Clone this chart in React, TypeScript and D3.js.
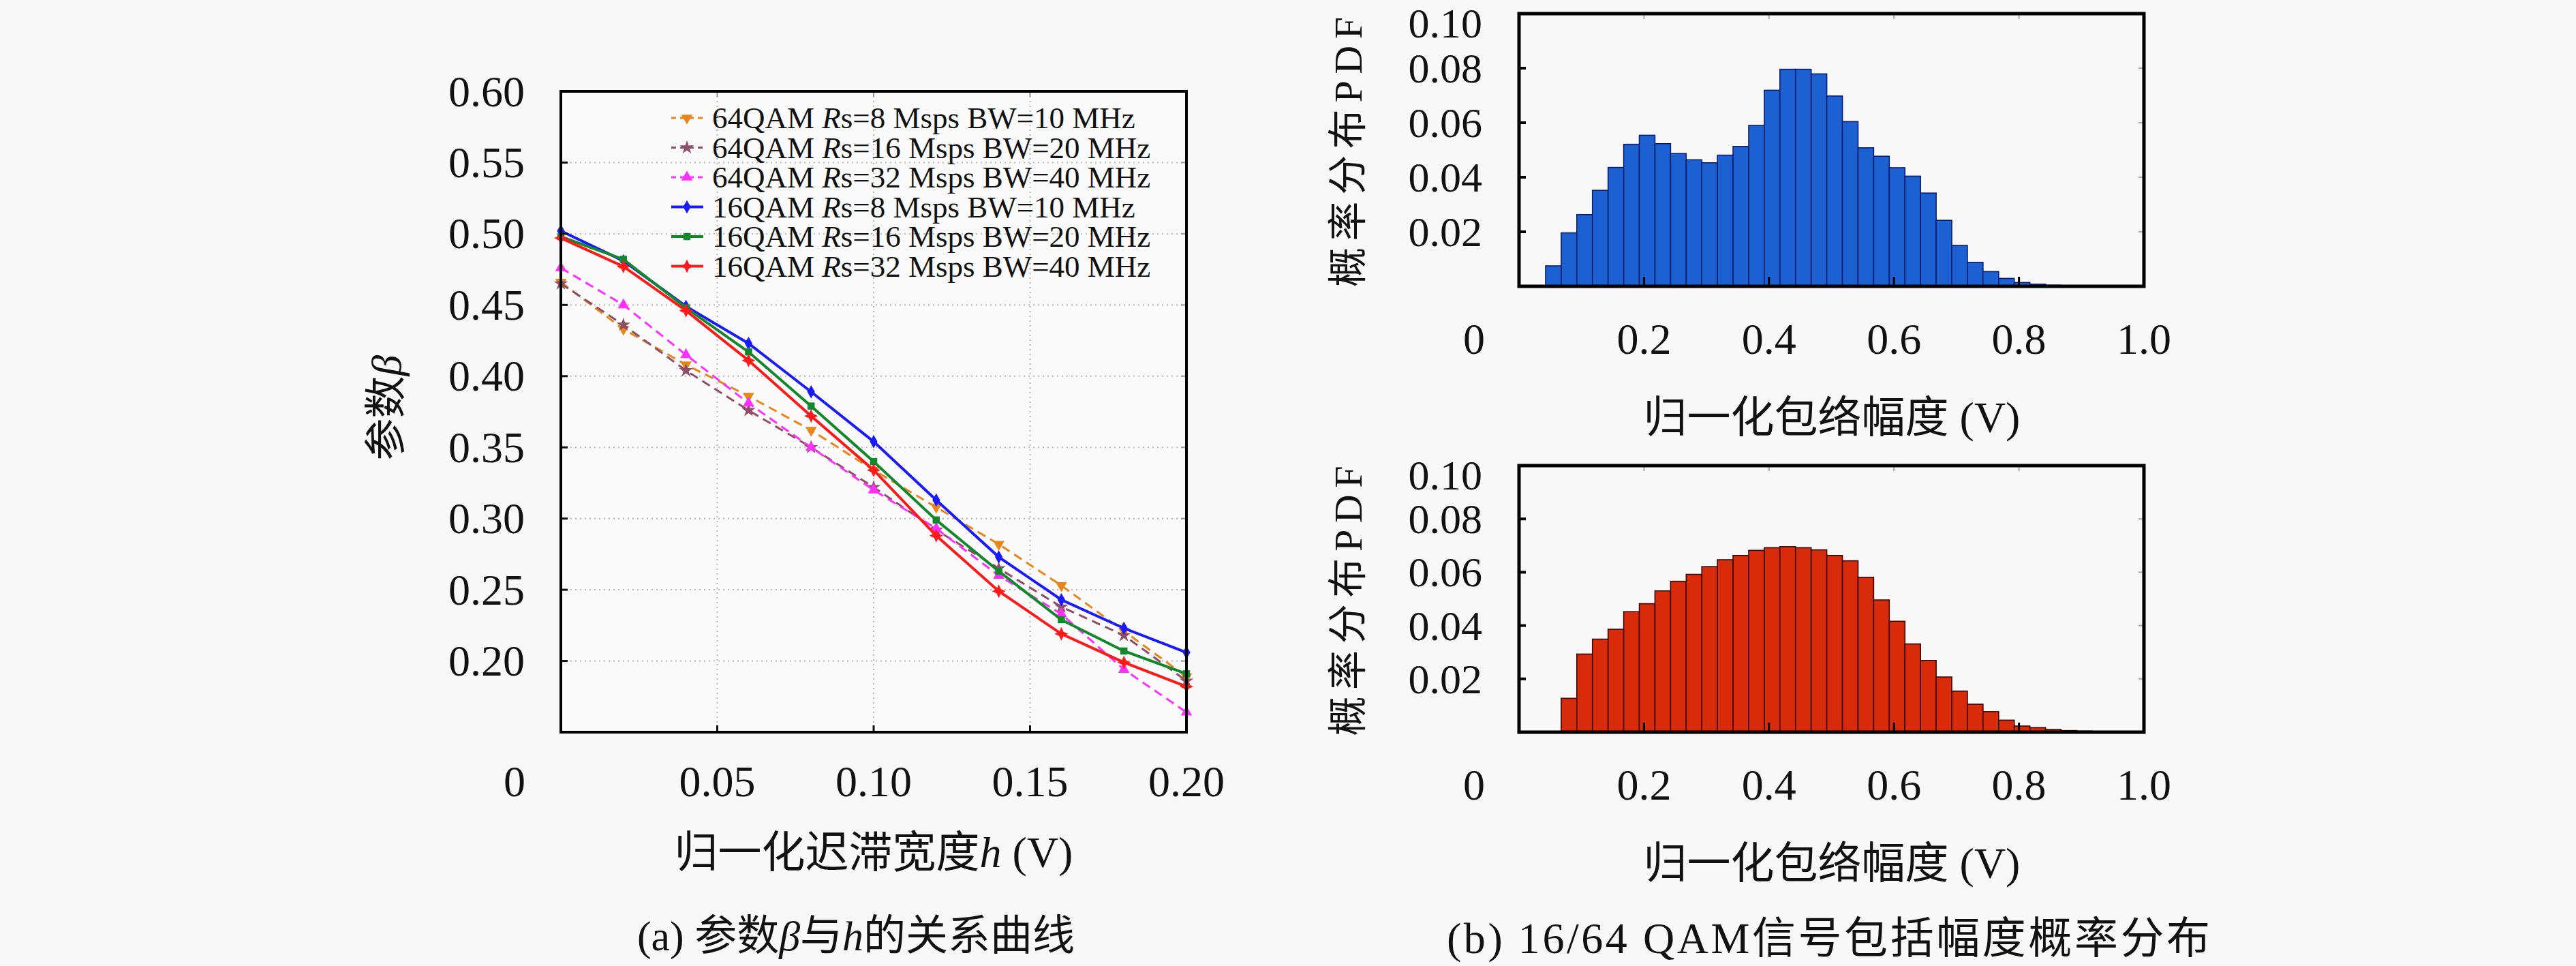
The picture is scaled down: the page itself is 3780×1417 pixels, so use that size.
import React from 'react';
import * as d3 from 'd3';

// ---- (a) beta vs h ----
const hValues = [0, 0.02, 0.04, 0.06, 0.08, 0.1, 0.12, 0.14, 0.16, 0.18, 0.2];
const qam64Rs8 = [0.466, 0.433, 0.408, 0.386, 0.362, 0.334, 0.308, 0.282, 0.253, 0.221, 0.189];
const qam64Rs16 = [0.465, 0.436, 0.404, 0.376, 0.35, 0.322, 0.292, 0.265, 0.238, 0.218, 0.186];
const qam64Rs32 = [0.476, 0.45, 0.415, 0.381, 0.35, 0.32, 0.293, 0.26, 0.233, 0.194, 0.164];
const qam16Rs8 = [0.502, 0.481, 0.449, 0.423, 0.389, 0.354, 0.313, 0.273, 0.243, 0.223, 0.206];
const qam16Rs16 = [0.498, 0.482, 0.448, 0.417, 0.379, 0.34, 0.299, 0.263, 0.229, 0.207, 0.191];
const qam16Rs32 = [0.497, 0.477, 0.446, 0.411, 0.372, 0.334, 0.288, 0.249, 0.219, 0.199, 0.182];

const betaTicks = [0.2, 0.25, 0.3, 0.35, 0.4, 0.45, 0.5, 0.55, 0.6];
const hTicks = [0.05, 0.1, 0.15, 0.2];

// ---- (b) envelope PDF histograms ----
const binWidth = 0.025;
const pdf64Start = 0.0425;
const pdf64 = [0.0075, 0.0196, 0.0263, 0.0352, 0.0436, 0.0521, 0.0554, 0.0523, 0.0487, 0.0464, 0.0453, 0.0481,
  0.0513, 0.059, 0.0719, 0.0796, 0.0796, 0.0779, 0.0698, 0.0604, 0.0508, 0.0477, 0.0435, 0.0404, 0.0342,
  0.0242, 0.015, 0.0088, 0.0054, 0.0029, 0.0014, 0.0008, 0.0004, 0.0002, 0.0001];
const pdf16Start = 0.0675;
const pdf16 = [0.0127, 0.0293, 0.0349, 0.0386, 0.0452, 0.0482, 0.053, 0.0566, 0.0592, 0.0621, 0.0647, 0.0663,
  0.0682, 0.0692, 0.0696, 0.0692, 0.0684, 0.0663, 0.0643, 0.0581, 0.0496, 0.0416, 0.0331, 0.0269, 0.0207,
  0.0154, 0.0105, 0.0077, 0.0045, 0.0023, 0.0017, 0.001, 0.0006, 0.0004, 0.0003, 0.0002, 0.0001];
const pdfTicks = [0.02, 0.04, 0.06, 0.08, 0.1];
const ampTicks = [0.2, 0.4, 0.6, 0.8, 1.0];

const SERIF = "'Liberation Serif', 'Noto Sans CJK SC', serif";

const star4 = (r: number) =>
  `M0,${-r}L${r * 0.32},${-r * 0.32}L${r},0L${r * 0.32},${r * 0.32}L0,${r}L${-r * 0.32},${r * 0.32}L${-r},0L${-r * 0.32},${-r * 0.32}Z`;

const series = [
  { label: '64QAM', rs: '8', bw: '10', values: qam64Rs8, color: '#e8861a', dash: '13,8', marker: d3.symbol(d3.symbolTriangle, 120)(), flip: true },
  { label: '64QAM', rs: '16', bw: '20', values: qam64Rs16, color: '#8e4f66', dash: '13,8', marker: d3.symbol(d3.symbolStar, 130)(), flip: false },
  { label: '64QAM', rs: '32', bw: '40', values: qam64Rs32, color: '#ff30ff', dash: '13,8', marker: d3.symbol(d3.symbolTriangle, 120)(), flip: false },
  { label: '16QAM', rs: '8', bw: '10', values: qam16Rs8, color: '#1a1aff', dash: null, marker: d3.symbol(d3.symbolDiamond, 110)(), flip: false },
  { label: '16QAM', rs: '16', bw: '20', values: qam16Rs16, color: '#12882c', dash: null, marker: d3.symbol(d3.symbolSquare, 110)(), flip: false },
  { label: '16QAM', rs: '32', bw: '40', values: qam16Rs32, color: '#ff1a1a', dash: null, marker: star4(10), flip: false },
];

function LinePanel() {
  const x = d3.scaleLinear().domain([0, 0.2]).range([823, 1741]);
  const y = d3.scaleLinear().domain([0.15, 0.6]).range([1074, 134]);
  const [x0, x1] = x.range();
  const [y0, y1] = y.range();
  return (
    <g>
      <rect x={x0} y={y1} width={x1 - x0} height={y0 - y1} fill="#fafafa" />
      {hTicks.slice(0, -1).map((t) => (
        <line key={'gx' + t} x1={x(t)} x2={x(t)} y1={y0} y2={y1} stroke="#b8b8b8" strokeWidth={2} strokeDasharray="2,5" />
      ))}
      {betaTicks.slice(0, -1).map((t) => (
        <line key={'gy' + t} x1={x0} x2={x1} y1={y(t)} y2={y(t)} stroke="#b8b8b8" strokeWidth={2} strokeDasharray="2,5" />
      ))}
      {series.map((s, i) => {
        const line = d3.line<number>().x((_, j) => x(hValues[j])).y((d) => y(d));
        return (
          <g key={i}>
            <path d={line(s.values) || ''} fill="none" stroke={s.color} strokeWidth={s.dash ? 3 : 4} strokeDasharray={s.dash || undefined} />
            {s.values.map((v, j) => (
              <path key={j} d={s.marker || ''} transform={`translate(${x(hValues[j])},${y(v)})${s.flip ? ' rotate(180)' : ''}`} fill={s.color} />
            ))}
          </g>
        );
      })}
      {/* legend */}
      {series.map((s, i) => {
        const ly = 173 + i * 43.5;
        return (
          <g key={'lg' + i}>
            <line x1={985} x2={1032} y1={ly} y2={ly} stroke={s.color} strokeWidth={s.dash ? 3 : 4} strokeDasharray={s.dash ? '7,6' : undefined} />
            <path d={s.marker || ''} transform={`translate(1008,${ly})${s.flip ? ' rotate(180)' : ''}`} fill={s.color} />
            <text x={1045} y={ly} dominantBaseline="central" fontSize={45} fontFamily={SERIF} fill="#111">
              {s.label} <tspan fontStyle="italic">R</tspan>s={s.rs} Msps BW={s.bw} MHz
            </text>
          </g>
        );
      })}
      {/* ticks */}
      {betaTicks.slice(0, -1).map((t) => (
        <g key={'ty' + t}>
          <line x1={x0} x2={x0 + 10} y1={y(t)} y2={y(t)} stroke="#111" strokeWidth={3} />
          <line x1={x1} x2={x1 - 8} y1={y(t)} y2={y(t)} stroke="#999" strokeWidth={2} />
        </g>
      ))}
      {hTicks.slice(0, -1).map((t) => (
        <g key={'tx' + t}>
          <line x1={x(t)} x2={x(t)} y1={y0} y2={y0 - 10} stroke="#111" strokeWidth={3} />
          <line x1={x(t)} x2={x(t)} y1={y1} y2={y1 + 8} stroke="#999" strokeWidth={2} />
        </g>
      ))}
      <rect x={x0} y={y1} width={x1 - x0} height={y0 - y1} fill="none" stroke="#000" strokeWidth={4} />
      {betaTicks.map((t) => (
        <text key={'ly' + t} x={770} y={y(t)} textAnchor="end" dominantBaseline="central" fontSize={64} fontFamily={SERIF} fill="#111">
          {t.toFixed(2)}
        </text>
      ))}
      {hTicks.map((t) => (
        <text key={'lx' + t} x={x(t)} y={1146} textAnchor="middle" dominantBaseline="central" fontSize={64} fontFamily={SERIF} fill="#111">
          {t.toFixed(2)}
        </text>
      ))}
      <text x={x0 - 68} y={1146} textAnchor="middle" dominantBaseline="central" fontSize={64} fontFamily={SERIF} fill="#111">0</text>
      <text transform="translate(567,598) rotate(-90)" textAnchor="middle" dominantBaseline="central" fontSize={62} fontFamily={SERIF} fill="#111">
        参数<tspan fontStyle="italic">β</tspan>
      </text>
      <text x={1282} y={1250} textAnchor="middle" dominantBaseline="central" fontSize={64} fontFamily={SERIF} fill="#111">
        归一化迟滞宽度<tspan fontStyle="italic">h</tspan> (V)
      </text>
      <text x={1256} y={1373} textAnchor="middle" dominantBaseline="central" fontSize={62} fontFamily={SERIF} fill="#111">
        (a) 参数<tspan fontStyle="italic">β</tspan>与<tspan fontStyle="italic">h</tspan>的关系曲线
      </text>
    </g>
  );
}

function HistPanel({ values, start, top, bottom, fill, edge }: { values: number[]; start: number; top: number; bottom: number; fill: string; edge: string }) {
  const x = d3.scaleLinear().domain([0, 1]).range([2229, 3146]);
  const y = d3.scaleLinear().domain([0, 0.1]).range([bottom, top]);
  const [x0, x1] = x.range();
  return (
    <g>
      {values.map((v, i) => {
        const left = start + i * binWidth;
        return (
          <rect key={i} x={x(left)} y={y(v)} width={x(left + binWidth) - x(left)} height={y(0) - y(v)} fill={fill} stroke={edge} strokeWidth={1.6} />
        );
      })}
      {pdfTicks.slice(0, -1).map((t) => (
        <g key={'t' + t}>
          <line x1={x0} x2={x0 + 10} y1={y(t)} y2={y(t)} stroke="#000" strokeWidth={4} />
          <line x1={x1} x2={x1 - 8} y1={y(t)} y2={y(t)} stroke="#aaa" strokeWidth={2} />
        </g>
      ))}
      {ampTicks.slice(0, -1).map((t) => (
        <g key={'a' + t}>
          <line x1={x(t)} x2={x(t)} y1={bottom} y2={bottom - 14} stroke="#000" strokeWidth={3} />
          <line x1={x(t)} x2={x(t)} y1={top} y2={top + 8} stroke="#aaa" strokeWidth={2} />
        </g>
      ))}
      <rect x={x0} y={top} width={x1 - x0} height={bottom - top} fill="none" stroke="#000" strokeWidth={5} />
      {pdfTicks.map((t) => (
        <text key={'ly' + t} x={2175} y={y(t) + (t === 0.1 ? 14 : 0)} textAnchor="end" dominantBaseline="central" fontSize={62} fontFamily={SERIF} fill="#111">
          {t.toFixed(2)}
        </text>
      ))}
      {ampTicks.map((t) => (
        <text key={'lx' + t} x={x(t)} y={bottom + 77} textAnchor="middle" dominantBaseline="central" fontSize={64} fontFamily={SERIF} fill="#111">
          {t.toFixed(1)}
        </text>
      ))}
      <text x={x0 - 66} y={bottom + 77} textAnchor="middle" dominantBaseline="central" fontSize={64} fontFamily={SERIF} fill="#111">0</text>
      <text transform={`translate(1978,${(top + bottom) / 2 + 3}) rotate(-90)`} textAnchor="middle" dominantBaseline="central" fontSize={58} fontFamily={SERIF} fill="#111" textLength={396} lengthAdjust="spacing">
        概率分布PDF
      </text>
      <text x={2688} y={bottom + 192} textAnchor="middle" dominantBaseline="central" fontSize={64} fontFamily={SERIF} fill="#111">
        归一化包络幅度 (V)
      </text>
    </g>
  );
}

export default function App() {
  return (
    <svg width={3780} height={1417} style={{ position: 'absolute', left: 0, top: 0, display: 'block' }}>
      <rect width={3780} height={1417} fill="#f8f8f8" />
      <LinePanel />
      <HistPanel values={pdf64} start={pdf64Start} top={20} bottom={420} fill="#1c60d2" edge="#0b1f70" />
      <HistPanel values={pdf16} start={pdf16Start} top={683} bottom={1074} fill="#d82b0c" edge="#3a0800" />
      <text x={2683} y={1376} textAnchor="middle" dominantBaseline="central" fontSize={64} fontFamily={SERIF} fill="#111" textLength={1120} lengthAdjust="spacing">
        (b) 16/64 QAM信号包括幅度概率分布
      </text>
    </svg>
  );
}
